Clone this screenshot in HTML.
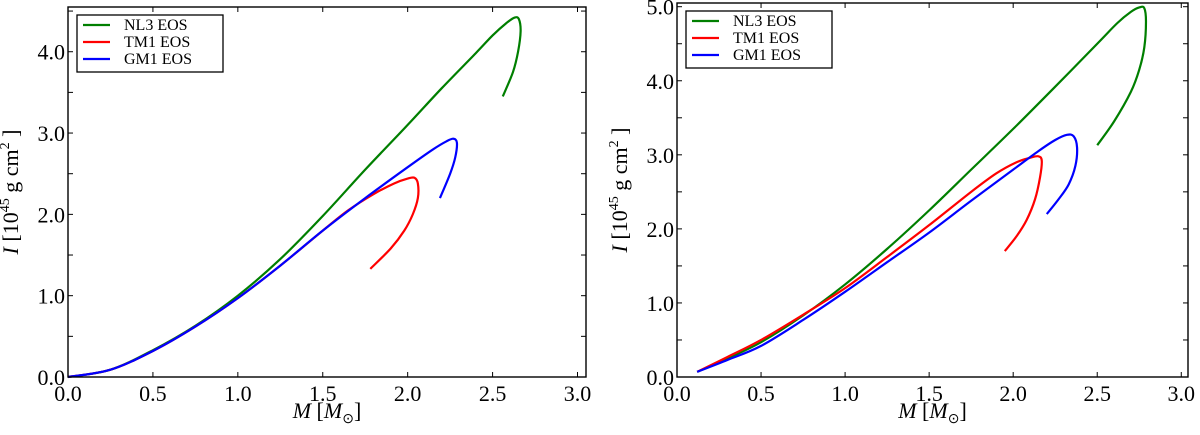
<!DOCTYPE html>
<html><head><meta charset="utf-8"><style>
body{margin:0;background:#fff;width:1200px;height:430px;overflow:hidden}
svg text{font-family:"Liberation Serif",serif;fill:#000}
</style></head><body>
<svg id="c" width="1200" height="430"></svg>
<script>
const xTicks=[0.0,0.5,1.0,1.5,2.0,2.5,3.0];
const leftYTicks=[0.0,1.0,2.0,3.0,4.0];
const rightYTicks=[0.0,1.0,2.0,3.0,4.0,5.0];
const seriesNames=["NL3 EOS","TM1 EOS","GM1 EOS"];
const seriesColors=["#007f00","#ff0000","#0000ff"];
const leftNL3M=[0,0.25,0.5,0.75,1.0,1.25,1.5,1.75,2.0,2.2,2.4,2.5,2.58,2.63,2.655,2.665,2.65,2.62,2.56];
const leftNL3I=[0,0.09,0.33,0.63,1.0,1.45,1.98,2.55,3.1,3.55,3.98,4.2,4.35,4.42,4.4,4.25,4.0,3.75,3.45];
const leftTM1M=[0,0.25,0.5,0.75,1.0,1.25,1.5,1.65,1.8,1.92,2.0,2.04,2.06,2.06,2.03,1.98,1.9,1.78];
const leftTM1I=[0,0.09,0.32,0.62,0.97,1.37,1.8,2.05,2.25,2.38,2.44,2.45,2.38,2.2,2.0,1.8,1.58,1.33];
const leftGM1M=[0,0.25,0.5,0.75,1.0,1.25,1.5,1.75,2.0,2.15,2.23,2.27,2.29,2.28,2.25,2.19];
const leftGM1I=[0,0.09,0.32,0.62,0.97,1.37,1.8,2.2,2.58,2.8,2.9,2.93,2.88,2.7,2.5,2.2];
const rightNL3M=[0.12,0.3,0.5,0.75,1.0,1.25,1.5,1.75,2.0,2.25,2.5,2.62,2.7,2.75,2.78,2.79,2.78,2.75,2.7,2.6,2.5];
const rightNL3I=[0.07,0.25,0.47,0.83,1.25,1.73,2.25,2.8,3.35,3.92,4.5,4.78,4.93,4.99,4.98,4.8,4.45,4.15,3.85,3.45,3.13];
const rightTM1M=[0.12,0.3,0.5,0.75,1.0,1.25,1.5,1.75,1.9,2.02,2.1,2.15,2.17,2.16,2.13,2.08,2.02,1.95];
const rightTM1I=[0.07,0.27,0.5,0.84,1.2,1.62,2.05,2.5,2.75,2.9,2.96,2.98,2.92,2.7,2.4,2.12,1.9,1.7];
const rightGM1M=[0.12,0.3,0.5,0.75,1.0,1.25,1.5,1.75,2.0,2.15,2.25,2.32,2.36,2.38,2.37,2.33,2.27,2.2];
const rightGM1I=[0.07,0.23,0.42,0.77,1.15,1.55,1.95,2.38,2.8,3.05,3.2,3.27,3.25,3.1,2.85,2.6,2.4,2.2];

const svg=document.getElementById('c');const NS='http://www.w3.org/2000/svg';
function mk(t,a,p){const e=document.createElementNS(NS,t);for(const k in a)e.setAttribute(k,a[k]);(p||svg).appendChild(e);return e;}
function smooth(pts){let d='M'+pts[0][0]+','+pts[0][1];for(let i=0;i<pts.length-1;i++){const p0=pts[i-1]||pts[i],p1=pts[i],p2=pts[i+1],p3=pts[i+2]||p2;
d+=' C'+(p1[0]+(p2[0]-p0[0])/6)+','+(p1[1]+(p2[1]-p0[1])/6)+' '+(p2[0]-(p3[0]-p1[0])/6)+','+(p2[1]-(p3[1]-p1[1])/6)+' '+p2[0]+','+p2[1];}return d;}
function panel(id,L,R,T,B,xmax,ymax,yTicks,series){
  const g=mk('g',{});
  
  
  const sx=v=>L+v/xmax*(R-L), sy=v=>B-v/ymax*(B-T);
  xTicks.forEach(v=>{const x=sx(v);mk('line',{x1:x,x2:x,y1:B,y2:B-5,stroke:'#000'},g);mk('line',{x1:x,x2:x,y1:T,y2:T+5,stroke:'#000'},g);
    const t=mk('text',{x:x,y:B+24,'text-anchor':'middle','font-size':22},g);t.textContent=v.toFixed(1);
    
    });
  for(let v=0;v<=ymax+1e-9;v+=0.5){const y=sy(v);mk('line',{x1:L,x2:L+5,y1:y,y2:y,stroke:'#000'},g);mk('line',{x1:R,x2:R-5,y1:y,y2:y,stroke:'#000'},g);}
  yTicks.forEach(v=>{const t=mk('text',{x:L-3,y:sy(v)+8,'text-anchor':'end','font-size':22},g);t.textContent=v.toFixed(1);
    
    });
  series.forEach((s,i)=>{const p=mk('path',{d:smooth(s[0].map((m,j)=>[sx(m),sy(s[1][j])])),fill:'none',stroke:seriesColors[i],'stroke-width':2.2,'stroke-linejoin':'round'},g);
    
    });
  mk('rect',{x:L,y:T,width:R-L,height:B-T,fill:'none',stroke:'#000','stroke-width':1.4},g);
  const lg=mk('g',{},g);
  
  
  mk('rect',{x:L+9,y:T+8,width:146,height:57,fill:'#fff',stroke:'#000','stroke-width':1.3},lg);
  seriesNames.forEach((n,i)=>{const y=T+18+i*17;mk('line',{x1:L+15,x2:L+42,y1:y,y2:y,stroke:seriesColors[i],'stroke-width':2.2},lg);
    const t=mk('text',{x:L+56,y:y+5,'font-size':16},lg);t.textContent=n;
    
    });
  const xl=mk('text',{x:(L+R)/2,y:418,'text-anchor':'middle','font-size':22},g);
  xl.innerHTML='<tspan font-style="italic">M</tspan> [<tspan font-style="italic">M</tspan><tspan font-size="14" dy="5">⊙</tspan><tspan dy="-5">]</tspan>';
  
  
  const yl=mk('text',{transform:'translate('+(L-50)+','+((T+B)/2)+') rotate(-90)','text-anchor':'middle','font-size':22},g);
  yl.innerHTML='<tspan font-style="italic">I</tspan> [10<tspan font-size="14" dy="-9">45</tspan><tspan dy="9"> g cm</tspan><tspan font-size="14" dy="-9">2</tspan><tspan dy="9"> ]</tspan>';
  
  
}
panel('left-panel',68,586,7,377,3.05,4.55,leftYTicks,[[leftNL3M,leftNL3I],[leftTM1M,leftTM1I],[leftGM1M,leftGM1I]]);
panel('right-panel',677,1188,3,377,3.04,5.05,rightYTicks,[[rightNL3M,rightNL3I],[rightTM1M,rightTM1I],[rightGM1M,rightGM1I]]);
</script>
</body></html>
